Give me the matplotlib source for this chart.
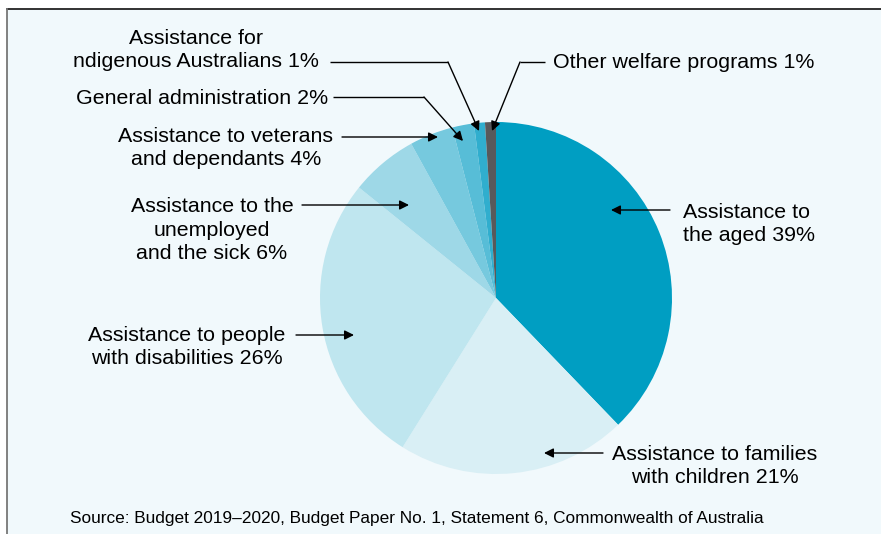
import matplotlib
matplotlib.use("Agg")
import matplotlib.pyplot as plt
from matplotlib.patches import Rectangle
from matplotlib.lines import Line2D

plt.rcParams['font.family'] = ['Liberation Sans', 'DejaVu Sans']

#===Data===#
categories = ["Assistance to the aged", "Assistance to families with children",
              "Assistance to people with disabilities", "Assistance to the unemployed and the sick",
              "Assistance to veterans and dependants", "General administration",
              "Assistance for Indigenous Australians", "Other welfare programs"]
# slice sizes (labels show the rounded figures)
shares = [37.8, 21.1, 26.9, 6.2, 4.0, 2.0, 1.0, 1.0]
colors = ["#009ec2", "#d9eff5", "#bfe6ef", "#9ed8e7", "#76c9de", "#57bdd7", "#30aece", "#58595b"]

label_text = [
    "Assistance to\nthe aged 39%",
    "Assistance to families\nwith children 21%",
    "Assistance to people\nwith disabilities 26%",
    "Assistance to the\nunemployed\nand the sick 6%",
    "Assistance to veterans\nand dependants 4%",
    "General administration 2%",
    "Assistance for\nndigenous Australians 1%",
    "Other welfare programs 1%",
]

#===Figure (pixel coordinates, y down)===#
W, H = 881, 534
fig = plt.figure(figsize=(W / 100, H / 100), dpi=100)
ax = fig.add_axes([0, 0, 1, 1])

# panel background + frame
ax.add_patch(Rectangle((7, 9), W, H, facecolor="#f1f9fc", edgecolor="none", zorder=0))
ax.add_line(Line2D([7, W], [9, 9], color="#222222", lw=1.3, zorder=1))
ax.add_line(Line2D([7, 7], [9, H], color="#777777", lw=1.3, zorder=1))

# pie (y is inverted, so counterclock=True draws clockwise on screen)
ax.pie(shares, colors=colors, startangle=-90, counterclock=True,
       center=(496, 298), radius=176, frame=True,
       wedgeprops=dict(linewidth=0))
ax.set_xlim(0, W)
ax.set_ylim(H, 0)
ax.set_aspect('equal')
ax.axis('off')

fs = 15.4
ls = 1.32
arrow = dict(arrowstyle='-|>', color='black', lw=1, mutation_scale=14,
             shrinkA=0, shrinkB=0)

def connector(points, head):
    xs = [p[0] for p in points]
    ys = [p[1] for p in points]
    ax.plot(xs, ys, color='black', lw=1, solid_capstyle='butt')
    ax.annotate('', xy=head, xytext=points[-1], arrowprops=arrow)

# aged
ax.text(683, 224, label_text[0], fontsize=fs, ha='left', va='center', linespacing=ls)
connector([(670, 210)], (611, 210))
# families
ax.text(715, 466, label_text[1], fontsize=fs, ha='center', va='center', linespacing=ls)
connector([(603, 453)], (544, 453))
# disabilities
ax.text(187, 347, label_text[2], fontsize=fs, ha='center', va='center', linespacing=ls)
connector([(296, 335)], (354, 335))
# unemployed
ax.text(212, 230, label_text[3], fontsize=fs, ha='center', va='center', linespacing=ls)
connector([(302, 205)], (409, 205))
# veterans
ax.text(226, 148, label_text[4], fontsize=fs, ha='center', va='center', linespacing=ls)
connector([(342, 137)], (438, 137))
# general administration
ax.text(328, 98, label_text[5], fontsize=fs, ha='right', va='center')
connector([(333, 97), (424, 97)], (463, 141))
# indigenous
ax.text(196, 50, label_text[6], fontsize=fs, ha='center', va='center', linespacing=ls)
connector([(330, 62), (448, 62)], (479, 131))
# other
ax.text(553, 62, label_text[7], fontsize=fs, ha='left', va='center')
connector([(545, 62), (520, 62)], (492, 131))

ax.text(70, 518, "Source: Budget 2019\u20132020, Budget Paper No. 1, Statement 6, Commonwealth of Australia",
        fontsize=12.4, ha='left', va='center')

fig.savefig("out.png", dpi=100, facecolor="white")
